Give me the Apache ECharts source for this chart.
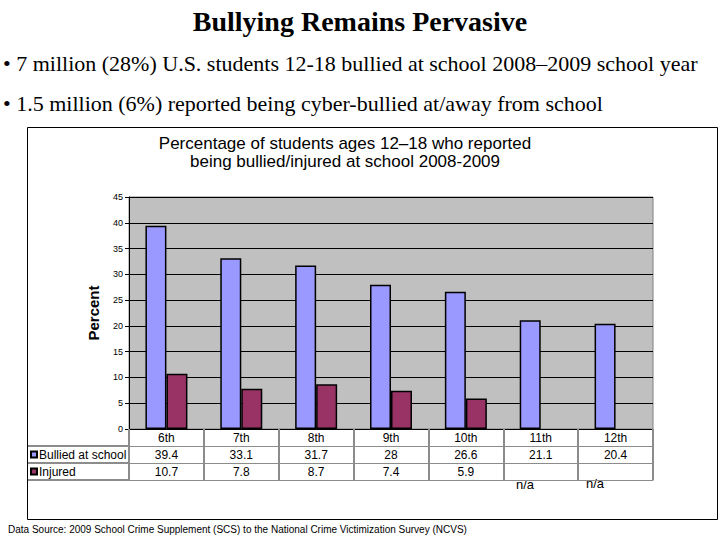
<!DOCTYPE html>
<html><head><meta charset="utf-8">
<script src="https://cdn.jsdelivr.net/npm/echarts@6/dist/echarts.min.js"></script>
<style>html,body{margin:0;padding:0;background:#fff}#c{width:720px;height:540px}</style>
</head><body><div id="c"></div>
<script>
const categories = ['6th','7th','8th','9th','10th','11th','12th'];
const bullied = [39.4, 33.1, 31.7, 28, 26.6, 21.1, 20.4];
const injured = [10.7, 7.8, 8.7, 7.4, 5.9, null, null];
const seriesNames = ['Bullied at school', 'Injured'];
const yTicks = {min: 0, max: 45, interval: 5};

const chart = echarts.init(document.getElementById('c'), null, {renderer: 'svg'});
const tableAxis = (idx, offset, labels, lineColor) => ({
  type: 'category', data: categories, position: 'bottom', offset: offset, gridIndex: 0,
  axisLine: {show: true, lineStyle: {color: lineColor, width: 1}},
  axisTick: {show: labels !== null, alignWithLabel: false, interval: 0, length: 17, lineStyle: {color: '#8c8c8c', width: 2}},
  axisLabel: {show: labels !== null, interval: 0, margin: 3, color: '#000', fontSize: 12, fontFamily: 'Liberation Sans, Arial',
    formatter: (v, i) => labels ? (labels[i] == null ? '' : String(labels[i])) : ''},
  splitLine: {show: false}
});

chart.setOption({
  backgroundColor: '#fff',
  animation: false,
  title: [
    {text: 'Bullying Remains Pervasive', left: 'center', top: 7, padding: 0,
     textStyle: {fontFamily: 'Liberation Serif, Times New Roman', fontSize: 28, fontWeight: 'bold', color: '#000'}},
    {text: '• 7 million (28%) U.S. students 12-18 bullied at school 2008\u20132009 school year', left: 3, top: 52, padding: 0,
     textStyle: {fontFamily: 'Liberation Serif, Times New Roman', fontSize: 22, fontWeight: 'normal', color: '#000'}},
    {text: '• 1.5 million (6%) reported being cyber-bullied at/away from school', left: 3, top: 92, padding: 0,
     textStyle: {fontFamily: 'Liberation Serif, Times New Roman', fontSize: 22, fontWeight: 'normal', color: '#000'}},
    {text: 'Percentage of students ages 12\u201318 who reported\nbeing bullied/injured at school 2008-2009', left: 345, textAlign: 'center', top: 134, padding: 0,
     textStyle: {fontFamily: 'Liberation Sans, Arial', fontSize: 17, fontWeight: 'normal', color: '#000', lineHeight: 18}},
    {text: 'Data Source: 2009 School Crime Supplement (SCS) to the National Crime Victimization Survey (NCVS)', left: 8, top: 524, padding: 0,
     textStyle: {fontFamily: 'Liberation Sans, Arial', fontSize: 10, fontWeight: 'normal', color: '#000'}}
  ],
  legend: {
    orient: 'vertical', left: 30, top: 447.5, padding: 0, itemWidth: 6, itemHeight: 6, itemGap: 3,
    icon: 'rect', selectedMode: false,
    textStyle: {color: '#000', fontSize: 12, fontFamily: 'Liberation Sans, Arial', lineHeight: 14, padding: [0,0,0,-3]},
    data: seriesNames
  },
  grid: {left: 129, right: 67, top: 197, bottom: 111, show: true, backgroundColor: '#c0c0c0', borderColor: '#808080', borderWidth: 1},
  xAxis: [
    tableAxis(0, 0, categories, '#000'),
    tableAxis(1, 17, bullied, '#8c8c8c'),
    tableAxis(2, 34, injured, '#8c8c8c'),
    tableAxis(3, 51, null, '#8c8c8c')
  ],
  yAxis: {
    type: 'value', min: yTicks.min, max: yTicks.max, interval: yTicks.interval,
    name: 'Percent', nameLocation: 'middle', nameGap: 28,
    nameTextStyle: {fontFamily: 'Liberation Sans, Arial', fontSize: 15, fontWeight: 'bold', color: '#000'},
    axisLine: {show: true, lineStyle: {color: '#000', width: 1}},
    axisTick: {show: true, length: 4, lineStyle: {color: '#000'}},
    axisLabel: {color: '#000', fontSize: 9, fontFamily: 'Liberation Sans, Arial', margin: 6},
    splitLine: {show: true, lineStyle: {color: '#000', width: 1}}
  },
  series: [
    {name: seriesNames[0], type: 'bar', data: bullied, barWidth: 21, barGap: '0%', xAxisIndex: 0,
     itemStyle: {color: '#9999ff', borderColor: '#000', borderWidth: 1.5}},
    {name: seriesNames[1], type: 'bar', data: injured, barWidth: 21, barGap: '0%', xAxisIndex: 0,
     itemStyle: {color: '#993366', borderColor: '#000', borderWidth: 1.5}}
  ],
  graphic: [
    {type: 'rect', shape: {x: 27.5, y: 127.5, width: 690, height: 392}, style: {fill: 'none', stroke: '#000', lineWidth: 1}, z: -1, silent: true},
    {type: 'line', shape: {x1: 28, y1: 446, x2: 129, y2: 446}, style: {stroke: '#8c8c8c', lineWidth: 2}},
    {type: 'line', shape: {x1: 28, y1: 463, x2: 129, y2: 463}, style: {stroke: '#8c8c8c', lineWidth: 2}},
    {type: 'line', shape: {x1: 28, y1: 480, x2: 129, y2: 480}, style: {stroke: '#8c8c8c', lineWidth: 2}},
    {type: 'text', left: 516, top: 478, style: {text: 'n/a', fontSize: 13, fontFamily: 'Liberation Sans, Arial', fill: '#000'}},
    {type: 'text', left: 586, top: 477, style: {text: 'n/a', fontSize: 13, fontFamily: 'Liberation Sans, Arial', fill: '#000'}}
  ]
});
</script></body></html>
